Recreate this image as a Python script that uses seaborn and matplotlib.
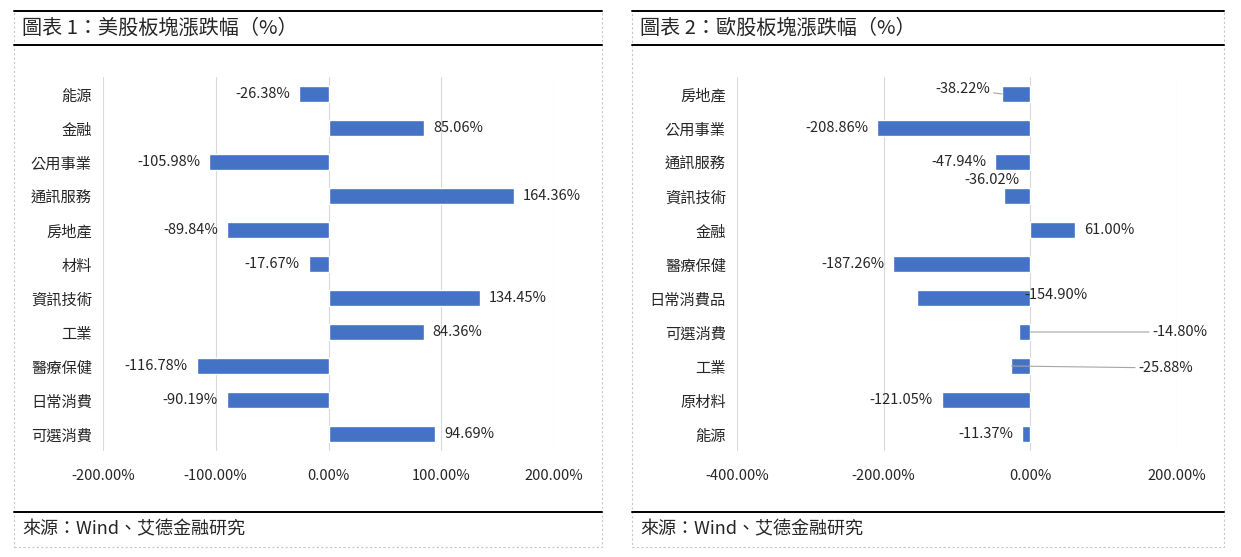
import matplotlib
matplotlib.use("Agg")
import matplotlib.pyplot as plt
from matplotlib.lines import Line2D
from matplotlib.patches import Rectangle
import seaborn as sns
import pandas as pd

sns.set_style("white")
plt.rcParams['font.family'] = ['Noto Sans CJK TC', 'DejaVu Sans']

# data
us_sectors = ["能源", "金融", "公用事業", "通訊服務", "房地產", "材料",
              "資訊技術", "工業", "醫療保健", "日常消費", "可選消費"]
us_change = [-26.38, 85.06, -105.98, 164.36, -89.84, -17.67,
             134.45, 84.36, -116.78, -90.19, 94.69]

eu_sectors = ["房地產", "公用事業", "通訊服務", "資訊技術", "金融", "醫療保健",
              "日常消費品", "可選消費", "工業", "原材料", "能源"]
eu_change = [-38.22, -208.86, -47.94, -36.02, 61.00, -187.26,
             -154.90, -14.80, -25.88, -121.05, -11.37]

us_ticks = [-200, -100, 0, 100, 200]
eu_ticks = [-400, -200, 0, 200]

titles = ["圖表 1：美股板塊漲跌幅（%）", "圖表 2：歐股板塊漲跌幅（%）"]
source = "來源：Wind、艾德金融研究"

BLUE = "#4472C4"
W, H = 1241, 557

fig = plt.figure(figsize=(W / 100, H / 100), dpi=100)


def fx(px):
    return px / W


def fy(py):
    return 1 - py / H


def panel_frame(x0, x1, title):
    # dotted outer box
    fig.patches.append(Rectangle((fx(x0), fy(547)), fx(x1 - x0), (547 - 10) / H,
                                 transform=fig.transFigure, fill=False,
                                 ec="#C8C8C8", lw=0.8, ls=(0, (2, 2))))
    for y in [11, 45, 512]:
        fig.lines.append(Line2D([fx(x0), fx(x1)], [fy(y), fy(y)],
                                transform=fig.transFigure, color="black", lw=1.4))
    fig.text(fx(x0 + 8), fy(28), title, fontsize=14.5, va="center", ha="left")
    fig.text(fx(x0 + 8), fy(529), source, fontsize=13, va="center", ha="left")


def bar_panel(rect, cats, vals, ticks, offsets=None):
    ax = fig.add_axes([fx(rect[0]), fy(rect[3]), fx(rect[1] - rect[0]), (rect[3] - rect[2]) / H])
    df = pd.DataFrame({"sector": cats, "value": vals})
    sns.barplot(data=df, x="value", y="sector", orient="h", color=BLUE,
                saturation=1, width=0.48, ax=ax)
    ax.set_xlim(ticks[0], ticks[-1])
    ax.set_ylim(len(cats) - 0.5, -0.5)
    ax.set_xticks(ticks)
    ax.set_xticklabels([f"{t:.2f}%" for t in ticks], fontsize=10.5)
    ax.tick_params(axis="x", length=0, pad=13)
    ax.tick_params(axis="y", length=0, pad=8, labelsize=11)
    ax.set_xlabel("")
    ax.set_ylabel("")
    ax.grid(axis="x", color="#D9D9D9", lw=0.8)
    ax.set_axisbelow(True)
    for s in ax.spines.values():
        s.set_visible(False)
    offsets = offsets or {}
    for i, v in enumerate(vals):
        label = f"{v:.2f}%"
        if i in offsets:
            dx, dy, ha, leader = offsets[i]
            ax.annotate(label, xy=(v if not leader == "end" else 0, i), xytext=(dx, dy),
                        textcoords="offset pixels", ha=ha, va="center", fontsize=10.5,
                        arrowprops=dict(arrowstyle="-", color="#A6A6A6", lw=0.8,
                                        shrinkA=0, shrinkB=0) if leader else None)
        else:
            dx = 9 if v >= 0 else -9
            ax.annotate(label, xy=(v, i), xytext=(dx, 0), textcoords="offset pixels",
                        ha="left" if v >= 0 else "right", va="center", fontsize=10.5)
    return ax


panel_frame(14, 602, titles[0])
panel_frame(632, 1224, titles[1])

bar_panel((103, 554, 77, 451), us_sectors, us_change, us_ticks)

# manually moved labels in the European chart (pixel offsets from bar end)
eu_offsets = {
    0: (-12, 5, "right", "bar"),
    3: (16, 16, "right", None),
    6: (108, 3, "left", None),
    7: (122, 0, "left", "end"),
    8: (127, -2, "left", "bar"),
}
bar_panel((737, 1177, 77, 451), eu_sectors, eu_change, eu_ticks, eu_offsets)

fig.savefig("out.png", dpi=100)
